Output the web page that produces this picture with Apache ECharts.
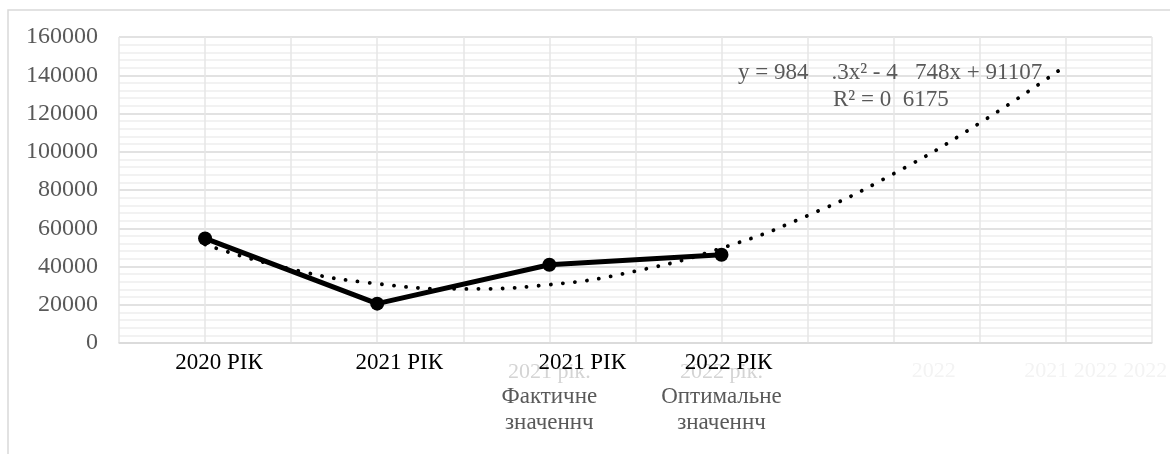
<!DOCTYPE html>
<html>
<head>
<meta charset="utf-8">
<script src="https://cdn.jsdelivr.net/npm/echarts@6/dist/echarts.min.js"></script>
<style>
html,body{margin:0;padding:0;background:#fff;}
#chart{width:1170px;height:454px;}
</style>
</head>
<body>
<div id="chart"></div>
<script>
// Categories (black overlay labels) and grey underlying labels
var categories = ['2020 РІК', '2021 РІК', '2021 РІК', '2022 РІК', '', ''];
var greyLabels = ['', '', '2021 рік.|Фактичне|значеннч', '2022 рік.|Оптимальне|значеннч', '2022', '2021 2022 2022'];
// Series values
var values = [54675, 20580, 40885, 46170];
// Polynomial trend line (x = category position 1..6)
var trendX = [1, 1.5, 2, 2.5, 3, 3.5, 4, 4.5, 5, 5.5, 6];
var trendY = [51500, 38600, 31000, 28300, 30500, 37600, 49600, 66600, 88500, 115000, 145000];
// Y tick values
var yMin = 0, yMax = 160000, yStep = 20000;
var equationText = 'y = 984    .3x² - 4   748x + 91107';
var r2Text = 'R² = 0  6175';

var FONT = '"Liberation Serif", "Times New Roman", serif';
var chart = echarts.init(document.getElementById('chart'));

var blackShift = ['p0', 'p1', 'p2', 'p3', 'n', 'n'];
var trendData = trendX.map(function (x, i) { return [x, trendY[i]]; });

var option = {
  animation: false,
  backgroundColor: '#fff',
  grid: { left: 119, right: 15, top: 37, bottom: 111, containLabel: false },
  xAxis: [
    {
      type: 'category',
      data: categories,
      boundaryGap: true,
      position: 'bottom',
      z: 10,
      axisLine: { show: true, lineStyle: { color: '#d9d9d9', width: 1.5 } },
      axisTick: { show: false },
      splitLine: { show: false },
      axisLabel: {
        interval: 0,
        margin: 8,
        fontFamily: FONT,
        fontSize: 23,
        color: '#000',
        formatter: function (v, i) {
          if (!v) return '';
          return '{' + blackShift[i] + '|' + v + '}';
        },
        rich: {
          p0: { fontFamily: FONT, fontSize: 23, color: '#000', padding: [0, 0, 0, 28] },
          p1: { fontFamily: FONT, fontSize: 23, color: '#000', padding: [0, 0, 0, 44] },
          p2: { fontFamily: FONT, fontSize: 23, color: '#000', padding: [0, 0, 0, 66] },
          p3: { fontFamily: FONT, fontSize: 23, color: '#000', padding: [0, 0, 0, 14] },
          n: { fontFamily: FONT, fontSize: 23, color: '#000' }
        }
      }
    },
    {
      type: 'value',
      min: 0.5,
      max: 6.5,
      interval: 0.5,
      position: 'bottom',
      axisLine: { show: false },
      axisTick: { show: false },
      axisLabel: { show: false },
      splitLine: { show: true, lineStyle: { color: '#e6e6e6', width: 1.5 } }
    },
    {
      type: 'category',
      data: greyLabels,
      boundaryGap: true,
      position: 'bottom',
      z: 1,
      axisLine: { show: false },
      axisTick: { show: false },
      splitLine: { show: false },
      axisLabel: {
        interval: 0,
        margin: 17,
        formatter: function (v, i) {
          if (!v) return '';
          var parts = v.split('|');
          if (parts.length === 1) {
            return i === 4 ? '{h5|' + v + '}' : '{h6|' + v + '}';
          }
          return '{f|' + parts[0] + '}\n{g|' + parts[1] + '}\n{g|' + parts[2] + '}';
        },
        rich: {
          f: { fontFamily: FONT, fontSize: 22, color: '#d4d4d4', lineHeight: 24 },
          g: { fontFamily: FONT, fontSize: 23, color: '#595959', lineHeight: 26 },
          h5: { fontFamily: FONT, fontSize: 22, color: '#f3f3f3', lineHeight: 22, padding: [0, 0, 0, 80] },
          h6: { fontFamily: FONT, fontSize: 22, color: '#f3f3f3', lineHeight: 22, padding: [0, 0, 0, 60] }
        }
      }
    }
  ],
  yAxis: {
    type: 'value',
    min: yMin,
    max: yMax,
    interval: yStep,
    axisLine: { show: false },
    axisTick: { show: false },
    axisLabel: {
      margin: 21,
      fontFamily: FONT,
      fontSize: 24,
      color: '#595959',
      formatter: function (v) { return String(v); }
    },
    splitLine: { show: true, lineStyle: { color: '#d9d9d9', width: 1.5 } },
    minorTick: { show: false, splitNumber: 5 },
    minorSplitLine: { show: true, lineStyle: { color: '#eeeeee', width: 1.5 } }
  },
  series: [
    {
      name: 'Trend',
      type: 'line',
      xAxisIndex: 1,
      data: trendData,
      smooth: true,
      showSymbol: false,
      symbol: 'none',
      z: 3,
      lineStyle: { color: '#000', width: 3.8, type: [0.1, 12], cap: 'round' }
    },
    {
      name: 'Values',
      type: 'line',
      xAxisIndex: 0,
      data: values,
      symbol: 'circle',
      symbolSize: 14,
      z: 5,
      itemStyle: { color: '#000' },
      lineStyle: { color: '#000', width: 5 }
    }
  ],
  graphic: [
    {
      type: 'rect',
      shape: { x: 8, y: 10, width: 1300, height: 600 },
      style: { fill: 'none', stroke: '#d9d9d9', lineWidth: 1.5 },
      silent: true,
      z: -10
    },
    {
      type: 'text',
      left: 738,
      top: 61,
      z: 20,
      style: { text: equationText, font: '23px ' + FONT, fill: '#595959' }
    },
    {
      type: 'text',
      left: 833,
      top: 88,
      z: 20,
      style: { text: r2Text, font: '23px ' + FONT, fill: '#595959' }
    }
  ]
};
chart.setOption(option);
</script>
</body>
</html>
